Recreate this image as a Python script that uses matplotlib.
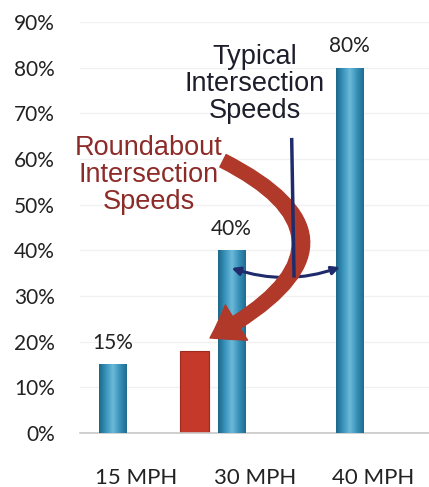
import numpy as np
import matplotlib.pyplot as plt
from matplotlib.colors import LinearSegmentedColormap
from matplotlib.patches import FancyArrowPatch
from matplotlib.path import Path

# values
speeds = ['15 MPH', '30 MPH', '40 MPH']
typical = [15, 40, 80]          # typical intersection speeds (%)
roundabout = 18                 # roundabout bar, partly hidden by the arrow head
yticks = [0, 10, 20, 30, 40, 50, 60, 70, 80, 90]
ytick_labels = [f'{t}%' for t in yticks]

label_font = 'Lato'
note_font = 'Liberation Sans'

fig = plt.figure(figsize=(4.29, 4.87), dpi=100)
ax = fig.add_axes([0.186, 0.111, 0.814, 0.844])

x = np.arange(len(speeds))
bars = ax.bar(x, typical, width=0.23, color='#2f8ab2', edgecolor='none', zorder=2)

# cylinder-like shading on the blue bars
cyl = LinearSegmentedColormap.from_list(
    'cyl', ['#1c688a', '#3994bc', '#6cbad9', '#3891b9', '#1f6d91'])
grad = np.linspace(0, 1, 64).reshape(1, -1)
for b in bars:
    x0, y0 = b.get_x(), b.get_y()
    im = ax.imshow(grad, cmap=cyl, aspect='auto', zorder=3,
                   extent=(x0, x0 + b.get_width(), y0, y0 + b.get_height()))
    im.set_clip_path(b)

# roundabout bar (red)
ax.bar(0.69, roundabout, width=0.25, color='#c4392a', edgecolor='#9e2a1e',
       linewidth=0.8, zorder=2)

for xi, v in zip(x, typical):
    ax.text(xi, v + 2.5, f'{v}%', ha='center', va='bottom',
            fontsize=15, family=label_font, color='#222222', zorder=6)

ax.set_xlim(-0.28, 2.67)
ax.set_ylim(0, 90)
ax.set_yticks(yticks, ytick_labels)
ax.set_xticks(x + 0.2, speeds)
ax.tick_params(axis='y', length=0, pad=18, labelsize=15, labelcolor='#222222')
ax.tick_params(axis='x', length=0, pad=25, labelsize=16, labelcolor='#222222')
for lab in ax.get_xticklabels() + ax.get_yticklabels():
    lab.set_family(label_font)

for s in ['top', 'right', 'left']:
    ax.spines[s].set_visible(False)
ax.spines['bottom'].set_color('#c8c8c8')
ax.spines['bottom'].set_linewidth(1.2)
ax.yaxis.grid(True, color='#f1f1f1', linewidth=1)
ax.set_axisbelow(True)

# annotations
ax.text(1.2, 76.5, 'Typical\nIntersection\nSpeeds', ha='center', va='center',
        fontsize=19.5, family=note_font, color='#1d1d2b', linespacing=1.05,
        zorder=5)
ax.text(0.3, 56.5, 'Roundabout\nIntersection\nSpeeds', ha='center', va='center',
        fontsize=19.5, family=note_font, color='#8c2b28', linespacing=1.05,
        zorder=5)

# curved red arrow (quadratic bezier)
red_path = Path([(0.93, 59.6), (2.3, 41.5), (0.82, 20.8)],
                [Path.MOVETO, Path.CURVE3, Path.CURVE3])
red_arrow = FancyArrowPatch(path=red_path,
                            arrowstyle='simple,head_length=22,head_width=30,tail_width=10',
                            color='#b0392a', zorder=4)
ax.add_patch(red_arrow)

# navy pointer: vertical stem and double-headed arc
navy = '#1f2b6b'
ax.plot([1.51, 1.53], [64.6, 34.0], color=navy, linewidth=2.5, zorder=6,
        solid_capstyle='butt')
ax.add_patch(FancyArrowPatch((0.98, 36.3), (1.94, 36.5),
                             arrowstyle='<|-|>', mutation_scale=12,
                             connectionstyle='arc3,rad=0.18',
                             color=navy, linewidth=2.2, zorder=3))

fig.savefig('out.png', dpi=100)
